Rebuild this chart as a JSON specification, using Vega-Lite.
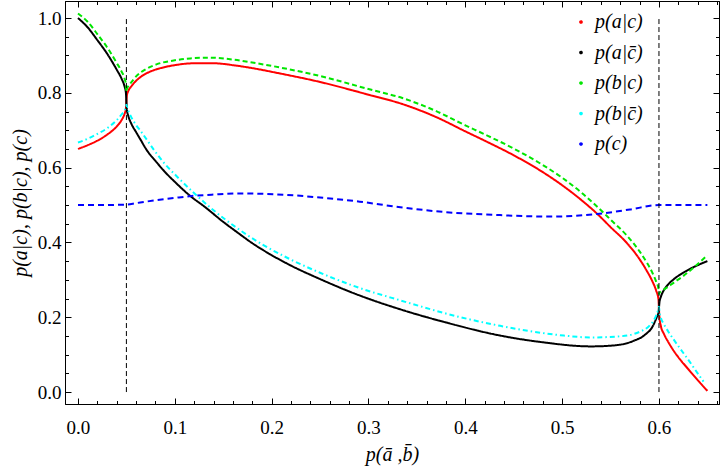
{
  "$schema": "https://vega.github.io/schema/vega-lite/v6.json",
  "width": 654,
  "height": 403,
  "autosize": {"type": "none"},
  "padding": {"left": 65, "top": 1, "right": 1, "bottom": 65},
  "config": {
    "view": {"stroke": "black", "strokeWidth": 1},
    "font": "Liberation Serif",
    "axis": {
      "domainColor": "black",
      "tickColor": "black",
      "labelColor": "black",
      "titleColor": "black",
      "grid": false,
      "labelFont": "Liberation Serif",
      "labelFontSize": 19,
      "titleFont": "Liberation Serif",
      "titleFontStyle": "italic",
      "titleFontWeight": "normal",
      "titleFontSize": 20
    }
  },
  "layer": [
    {
      "data": {
        "values": [
          {"s": "p(a|c)", "x": 0, "y": 0.65},
          {"s": "p(a|c)", "x": 0.01, "y": 0.66},
          {"s": "p(a|c)", "x": 0.02, "y": 0.672},
          {"s": "p(a|c)", "x": 0.03, "y": 0.688},
          {"s": "p(a|c)", "x": 0.04, "y": 0.71},
          {"s": "p(a|c)", "x": 0.045, "y": 0.727},
          {"s": "p(a|c)", "x": 0.048, "y": 0.743},
          {"s": "p(a|c)", "x": 0.0495, "y": 0.757},
          {"s": "p(a|c)", "x": 0.05, "y": 0.776},
          {"s": "p(a|c)", "x": 0.0505, "y": 0.793},
          {"s": "p(a|c)", "x": 0.052, "y": 0.805},
          {"s": "p(a|c)", "x": 0.055, "y": 0.817},
          {"s": "p(a|c)", "x": 0.06, "y": 0.832},
          {"s": "p(a|c)", "x": 0.065, "y": 0.843},
          {"s": "p(a|c)", "x": 0.07, "y": 0.851},
          {"s": "p(a|c)", "x": 0.08, "y": 0.862},
          {"s": "p(a|c)", "x": 0.09, "y": 0.869},
          {"s": "p(a|c)", "x": 0.1, "y": 0.874},
          {"s": "p(a|c)", "x": 0.12, "y": 0.879},
          {"s": "p(a|c)", "x": 0.14, "y": 0.879},
          {"s": "p(a|c)", "x": 0.16, "y": 0.874},
          {"s": "p(a|c)", "x": 0.18, "y": 0.866},
          {"s": "p(a|c)", "x": 0.21, "y": 0.851},
          {"s": "p(a|c)", "x": 0.25, "y": 0.829},
          {"s": "p(a|c)", "x": 0.3, "y": 0.795},
          {"s": "p(a|c)", "x": 0.335, "y": 0.77},
          {"s": "p(a|c)", "x": 0.37, "y": 0.735},
          {"s": "p(a|c)", "x": 0.4, "y": 0.697},
          {"s": "p(a|c)", "x": 0.42, "y": 0.672},
          {"s": "p(a|c)", "x": 0.45, "y": 0.633},
          {"s": "p(a|c)", "x": 0.48, "y": 0.588},
          {"s": "p(a|c)", "x": 0.5, "y": 0.553},
          {"s": "p(a|c)", "x": 0.52, "y": 0.513},
          {"s": "p(a|c)", "x": 0.536, "y": 0.477},
          {"s": "p(a|c)", "x": 0.55, "y": 0.441},
          {"s": "p(a|c)", "x": 0.567, "y": 0.398},
          {"s": "p(a|c)", "x": 0.58, "y": 0.355},
          {"s": "p(a|c)", "x": 0.587, "y": 0.326},
          {"s": "p(a|c)", "x": 0.593, "y": 0.297},
          {"s": "p(a|c)", "x": 0.597, "y": 0.272},
          {"s": "p(a|c)", "x": 0.5995, "y": 0.248},
          {"s": "p(a|c)", "x": 0.6, "y": 0.222},
          {"s": "p(a|c)", "x": 0.6005, "y": 0.2},
          {"s": "p(a|c)", "x": 0.602, "y": 0.176},
          {"s": "p(a|c)", "x": 0.605, "y": 0.156},
          {"s": "p(a|c)", "x": 0.61, "y": 0.132},
          {"s": "p(a|c)", "x": 0.615, "y": 0.111},
          {"s": "p(a|c)", "x": 0.62, "y": 0.093},
          {"s": "p(a|c)", "x": 0.63, "y": 0.062},
          {"s": "p(a|c)", "x": 0.64, "y": 0.032},
          {"s": "p(a|c)", "x": 0.65, "y": 0.003},

          {"s": "p(a|c̄)", "x": 0, "y": 1.0},
          {"s": "p(a|c̄)", "x": 0.01, "y": 0.975},
          {"s": "p(a|c̄)", "x": 0.02, "y": 0.941},
          {"s": "p(a|c̄)", "x": 0.03, "y": 0.905},
          {"s": "p(a|c̄)", "x": 0.04, "y": 0.862},
          {"s": "p(a|c̄)", "x": 0.045, "y": 0.838},
          {"s": "p(a|c̄)", "x": 0.048, "y": 0.818},
          {"s": "p(a|c̄)", "x": 0.0495, "y": 0.8},
          {"s": "p(a|c̄)", "x": 0.05, "y": 0.777},
          {"s": "p(a|c̄)", "x": 0.0505, "y": 0.755},
          {"s": "p(a|c̄)", "x": 0.052, "y": 0.738},
          {"s": "p(a|c̄)", "x": 0.055, "y": 0.718},
          {"s": "p(a|c̄)", "x": 0.06, "y": 0.695},
          {"s": "p(a|c̄)", "x": 0.065, "y": 0.673},
          {"s": "p(a|c̄)", "x": 0.071, "y": 0.647},
          {"s": "p(a|c̄)", "x": 0.08, "y": 0.618},
          {"s": "p(a|c̄)", "x": 0.09, "y": 0.588},
          {"s": "p(a|c̄)", "x": 0.1, "y": 0.562},
          {"s": "p(a|c̄)", "x": 0.117, "y": 0.522},
          {"s": "p(a|c̄)", "x": 0.13, "y": 0.497},
          {"s": "p(a|c̄)", "x": 0.15, "y": 0.455},
          {"s": "p(a|c̄)", "x": 0.165, "y": 0.426},
          {"s": "p(a|c̄)", "x": 0.18, "y": 0.398},
          {"s": "p(a|c̄)", "x": 0.2, "y": 0.366},
          {"s": "p(a|c̄)", "x": 0.22, "y": 0.338},
          {"s": "p(a|c̄)", "x": 0.25, "y": 0.302},
          {"s": "p(a|c̄)", "x": 0.29, "y": 0.259},
          {"s": "p(a|c̄)", "x": 0.333, "y": 0.221},
          {"s": "p(a|c̄)", "x": 0.38, "y": 0.186},
          {"s": "p(a|c̄)", "x": 0.436, "y": 0.151},
          {"s": "p(a|c̄)", "x": 0.48, "y": 0.133},
          {"s": "p(a|c̄)", "x": 0.53, "y": 0.122},
          {"s": "p(a|c̄)", "x": 0.555, "y": 0.125},
          {"s": "p(a|c̄)", "x": 0.574, "y": 0.137},
          {"s": "p(a|c̄)", "x": 0.585, "y": 0.152},
          {"s": "p(a|c̄)", "x": 0.594, "y": 0.178},
          {"s": "p(a|c̄)", "x": 0.598, "y": 0.202},
          {"s": "p(a|c̄)", "x": 0.5995, "y": 0.212},
          {"s": "p(a|c̄)", "x": 0.6, "y": 0.225},
          {"s": "p(a|c̄)", "x": 0.6005, "y": 0.24},
          {"s": "p(a|c̄)", "x": 0.602, "y": 0.255},
          {"s": "p(a|c̄)", "x": 0.605, "y": 0.272},
          {"s": "p(a|c̄)", "x": 0.61, "y": 0.289},
          {"s": "p(a|c̄)", "x": 0.615, "y": 0.301},
          {"s": "p(a|c̄)", "x": 0.625, "y": 0.319},
          {"s": "p(a|c̄)", "x": 0.635, "y": 0.333},
          {"s": "p(a|c̄)", "x": 0.65, "y": 0.35},

          {"s": "p(b|c)", "x": 0, "y": 1.012},
          {"s": "p(b|c)", "x": 0.01, "y": 0.99},
          {"s": "p(b|c)", "x": 0.02, "y": 0.957},
          {"s": "p(b|c)", "x": 0.03, "y": 0.922},
          {"s": "p(b|c)", "x": 0.04, "y": 0.88},
          {"s": "p(b|c)", "x": 0.045, "y": 0.857},
          {"s": "p(b|c)", "x": 0.048, "y": 0.839},
          {"s": "p(b|c)", "x": 0.0495, "y": 0.822},
          {"s": "p(b|c)", "x": 0.05, "y": 0.802},
          {"s": "p(b|c)", "x": 0.0505, "y": 0.81},
          {"s": "p(b|c)", "x": 0.052, "y": 0.818},
          {"s": "p(b|c)", "x": 0.055, "y": 0.828},
          {"s": "p(b|c)", "x": 0.06, "y": 0.844},
          {"s": "p(b|c)", "x": 0.07, "y": 0.863},
          {"s": "p(b|c)", "x": 0.081, "y": 0.876},
          {"s": "p(b|c)", "x": 0.1, "y": 0.887},
          {"s": "p(b|c)", "x": 0.116, "y": 0.892},
          {"s": "p(b|c)", "x": 0.136, "y": 0.894},
          {"s": "p(b|c)", "x": 0.16, "y": 0.889},
          {"s": "p(b|c)", "x": 0.18, "y": 0.881},
          {"s": "p(b|c)", "x": 0.21, "y": 0.867},
          {"s": "p(b|c)", "x": 0.25, "y": 0.845},
          {"s": "p(b|c)", "x": 0.3, "y": 0.81},
          {"s": "p(b|c)", "x": 0.335, "y": 0.786},
          {"s": "p(b|c)", "x": 0.37, "y": 0.751},
          {"s": "p(b|c)", "x": 0.4, "y": 0.713},
          {"s": "p(b|c)", "x": 0.42, "y": 0.689},
          {"s": "p(b|c)", "x": 0.45, "y": 0.651},
          {"s": "p(b|c)", "x": 0.48, "y": 0.607},
          {"s": "p(b|c)", "x": 0.5, "y": 0.573},
          {"s": "p(b|c)", "x": 0.52, "y": 0.533},
          {"s": "p(b|c)", "x": 0.536, "y": 0.496},
          {"s": "p(b|c)", "x": 0.55, "y": 0.461},
          {"s": "p(b|c)", "x": 0.567, "y": 0.418},
          {"s": "p(b|c)", "x": 0.58, "y": 0.376},
          {"s": "p(b|c)", "x": 0.587, "y": 0.348},
          {"s": "p(b|c)", "x": 0.593, "y": 0.32},
          {"s": "p(b|c)", "x": 0.597, "y": 0.296},
          {"s": "p(b|c)", "x": 0.5995, "y": 0.276},
          {"s": "p(b|c)", "x": 0.6, "y": 0.262},
          {"s": "p(b|c)", "x": 0.6005, "y": 0.265},
          {"s": "p(b|c)", "x": 0.602, "y": 0.269},
          {"s": "p(b|c)", "x": 0.605, "y": 0.274},
          {"s": "p(b|c)", "x": 0.608, "y": 0.279},
          {"s": "p(b|c)", "x": 0.615, "y": 0.292},
          {"s": "p(b|c)", "x": 0.625, "y": 0.31},
          {"s": "p(b|c)", "x": 0.635, "y": 0.331},
          {"s": "p(b|c)", "x": 0.65, "y": 0.366},

          {"s": "p(b|c̄)", "x": 0, "y": 0.667},
          {"s": "p(b|c̄)", "x": 0.01, "y": 0.677},
          {"s": "p(b|c̄)", "x": 0.02, "y": 0.69},
          {"s": "p(b|c̄)", "x": 0.03, "y": 0.705},
          {"s": "p(b|c̄)", "x": 0.04, "y": 0.727},
          {"s": "p(b|c̄)", "x": 0.045, "y": 0.742},
          {"s": "p(b|c̄)", "x": 0.048, "y": 0.753},
          {"s": "p(b|c̄)", "x": 0.0495, "y": 0.762},
          {"s": "p(b|c̄)", "x": 0.05, "y": 0.769},
          {"s": "p(b|c̄)", "x": 0.0505, "y": 0.762},
          {"s": "p(b|c̄)", "x": 0.052, "y": 0.752},
          {"s": "p(b|c̄)", "x": 0.055, "y": 0.735},
          {"s": "p(b|c̄)", "x": 0.06, "y": 0.714},
          {"s": "p(b|c̄)", "x": 0.065, "y": 0.697},
          {"s": "p(b|c̄)", "x": 0.078, "y": 0.649},
          {"s": "p(b|c̄)", "x": 0.09, "y": 0.609},
          {"s": "p(b|c̄)", "x": 0.1, "y": 0.582},
          {"s": "p(b|c̄)", "x": 0.119, "y": 0.534},
          {"s": "p(b|c̄)", "x": 0.14, "y": 0.486},
          {"s": "p(b|c̄)", "x": 0.165, "y": 0.437},
          {"s": "p(b|c̄)", "x": 0.19, "y": 0.395},
          {"s": "p(b|c̄)", "x": 0.216, "y": 0.359},
          {"s": "p(b|c̄)", "x": 0.25, "y": 0.319},
          {"s": "p(b|c̄)", "x": 0.29, "y": 0.279},
          {"s": "p(b|c̄)", "x": 0.333, "y": 0.245},
          {"s": "p(b|c̄)", "x": 0.395, "y": 0.2},
          {"s": "p(b|c̄)", "x": 0.436, "y": 0.177},
          {"s": "p(b|c̄)", "x": 0.498, "y": 0.152},
          {"s": "p(b|c̄)", "x": 0.53, "y": 0.146},
          {"s": "p(b|c̄)", "x": 0.56, "y": 0.149},
          {"s": "p(b|c̄)", "x": 0.58, "y": 0.161},
          {"s": "p(b|c̄)", "x": 0.59, "y": 0.177},
          {"s": "p(b|c̄)", "x": 0.596, "y": 0.198},
          {"s": "p(b|c̄)", "x": 0.599, "y": 0.218},
          {"s": "p(b|c̄)", "x": 0.6, "y": 0.228},
          {"s": "p(b|c̄)", "x": 0.6005, "y": 0.215},
          {"s": "p(b|c̄)", "x": 0.602, "y": 0.198},
          {"s": "p(b|c̄)", "x": 0.605, "y": 0.182},
          {"s": "p(b|c̄)", "x": 0.61, "y": 0.16},
          {"s": "p(b|c̄)", "x": 0.615, "y": 0.141},
          {"s": "p(b|c̄)", "x": 0.625, "y": 0.105},
          {"s": "p(b|c̄)", "x": 0.632, "y": 0.08},
          {"s": "p(b|c̄)", "x": 0.64, "y": 0.05},
          {"s": "p(b|c̄)", "x": 0.646, "y": 0.028},

          {"s": "p(c)", "x": 0, "y": 0.5},
          {"s": "p(c)", "x": 0.025, "y": 0.5},
          {"s": "p(c)", "x": 0.05, "y": 0.501},
          {"s": "p(c)", "x": 0.06, "y": 0.505},
          {"s": "p(c)", "x": 0.078, "y": 0.512},
          {"s": "p(c)", "x": 0.1, "y": 0.519},
          {"s": "p(c)", "x": 0.117, "y": 0.524},
          {"s": "p(c)", "x": 0.14, "y": 0.528},
          {"s": "p(c)", "x": 0.167, "y": 0.531},
          {"s": "p(c)", "x": 0.19, "y": 0.53},
          {"s": "p(c)", "x": 0.216, "y": 0.527},
          {"s": "p(c)", "x": 0.25, "y": 0.52},
          {"s": "p(c)", "x": 0.291, "y": 0.509},
          {"s": "p(c)", "x": 0.333, "y": 0.494},
          {"s": "p(c)", "x": 0.38, "y": 0.481},
          {"s": "p(c)", "x": 0.436, "y": 0.473},
          {"s": "p(c)", "x": 0.488, "y": 0.469},
          {"s": "p(c)", "x": 0.536, "y": 0.476},
          {"s": "p(c)", "x": 0.57, "y": 0.488},
          {"s": "p(c)", "x": 0.6, "y": 0.5},
          {"s": "p(c)", "x": 0.625, "y": 0.5},
          {"s": "p(c)", "x": 0.65, "y": 0.5}
        ]
      },
      "mark": {"type": "line", "interpolate": "monotone", "clip": true},
      "encoding": {
        "x": {
          "field": "x",
          "type": "quantitative",
          "scale": {"domain": [-0.0134, 0.662], "nice": false, "zero": false},
          "title": "p(ā ,b̄)",
          "axis": {
            "orient": "bottom",
            "values": [0, 0.02, 0.04, 0.06, 0.08, 0.1, 0.12, 0.14, 0.16, 0.18, 0.2, 0.22, 0.24, 0.26, 0.28, 0.3, 0.32, 0.34, 0.36, 0.38, 0.4, 0.42, 0.44, 0.46, 0.48, 0.5, 0.52, 0.54, 0.56, 0.58, 0.6, 0.62, 0.64, 0.66],
            "labelExpr": "abs(datum.value * 10 - round(datum.value * 10)) < 0.001 ? format(datum.value, '.1f') : ''",
            "tickSize": {"condition": {"test": "abs(datum.value * 10 - round(datum.value * 10)) < 0.001", "value": -6}, "value": -3.5},
            "labelPadding": 20,
            "labelFlush": false,
            "labelOverlap": false,
            "titlePadding": 5
          }
        },
        "y": {
          "field": "y",
          "type": "quantitative",
          "scale": {"domain": [-0.032, 1.0455], "nice": false, "zero": false},
          "title": "p(a|c),  p(b|c),  p(c)",
          "axis": {
            "orient": "left",
            "values": [0, 0.05, 0.1, 0.15, 0.2, 0.25, 0.3, 0.35, 0.4, 0.45, 0.5, 0.55, 0.6, 0.65, 0.7, 0.75, 0.8, 0.85, 0.9, 0.95, 1.0],
            "labelExpr": "abs(datum.value * 5 - round(datum.value * 5)) < 0.001 ? format(datum.value, '.1f') : ''",
            "tickSize": {"condition": {"test": "abs(datum.value * 5 - round(datum.value * 5)) < 0.001", "value": -6}, "value": -3.5},
            "labelPadding": 10,
            "labelFlush": false,
            "labelOverlap": false,
            "titlePadding": 7
          }
        },
        "color": {
          "field": "s",
          "type": "nominal",
          "scale": {
            "domain": ["p(a|c)", "p(a|c̄)", "p(b|c)", "p(b|c̄)", "p(c)"],
            "range": ["#ff0000", "#000000", "#00e600", "#00ffff", "#0000ff"]
          },
          "legend": {
            "orient": "none",
            "legendX": 506,
            "legendY": 11,
            "title": null,
            "padding": 0,
            "symbolType": "circle",
            "symbolSize": 3,
            "symbolStrokeWidth": 2.5,
            "labelFont": "Liberation Serif",
            "labelFontStyle": "italic",
            "labelFontSize": 20,
            "labelColor": "black",
            "labelOffset": 4,
            "rowPadding": 10.5
          }
        },
        "strokeDash": {
          "field": "s",
          "type": "nominal",
          "scale": {
            "domain": ["p(a|c)", "p(a|c̄)", "p(b|c)", "p(b|c̄)", "p(c)"],
            "range": [[1, 0], [1, 0], [5, 3], [5, 3, 1.5, 3], [6, 4]]
          },
          "legend": null
        },
        "strokeWidth": {
          "field": "s",
          "type": "nominal",
          "scale": {
            "domain": ["p(a|c)", "p(a|c̄)", "p(b|c)", "p(b|c̄)", "p(c)"],
            "range": [2, 2, 2.6, 2.6, 2.6]
          },
          "legend": null
        }
      }
    },
    {
      "data": {"values": [{"x": 0.05}, {"x": 0.6}]},
      "mark": {"type": "rule", "color": "black", "strokeWidth": 1, "strokeDash": [5, 3]},
      "encoding": {
        "x": {
          "field": "x",
          "type": "quantitative",
          "axis": {
            "orient": "top",
            "values": [0, 0.02, 0.04, 0.06, 0.08, 0.1, 0.12, 0.14, 0.16, 0.18, 0.2, 0.22, 0.24, 0.26, 0.28, 0.3, 0.32, 0.34, 0.36, 0.38, 0.4, 0.42, 0.44, 0.46, 0.48, 0.5, 0.52, 0.54, 0.56, 0.58, 0.6, 0.62, 0.64, 0.66],
            "labels": false,
            "title": null,
            "tickSize": {"condition": {"test": "abs(datum.value * 10 - round(datum.value * 10)) < 0.001", "value": -6}, "value": -3.5}
          }
        },
        "y": {
          "datum": 0,
          "type": "quantitative",
          "axis": {
            "orient": "right",
            "values": [0, 0.05, 0.1, 0.15, 0.2, 0.25, 0.3, 0.35, 0.4, 0.45, 0.5, 0.55, 0.6, 0.65, 0.7, 0.75, 0.8, 0.85, 0.9, 0.95, 1.0],
            "labels": false,
            "title": null,
            "tickSize": {"condition": {"test": "abs(datum.value * 5 - round(datum.value * 5)) < 0.001", "value": -6}, "value": -3.5}
          }
        },
        "y2": {"datum": 1}
      }
    }
  ],
  "resolve": {"axis": {"x": "independent", "y": "independent"}}
}
